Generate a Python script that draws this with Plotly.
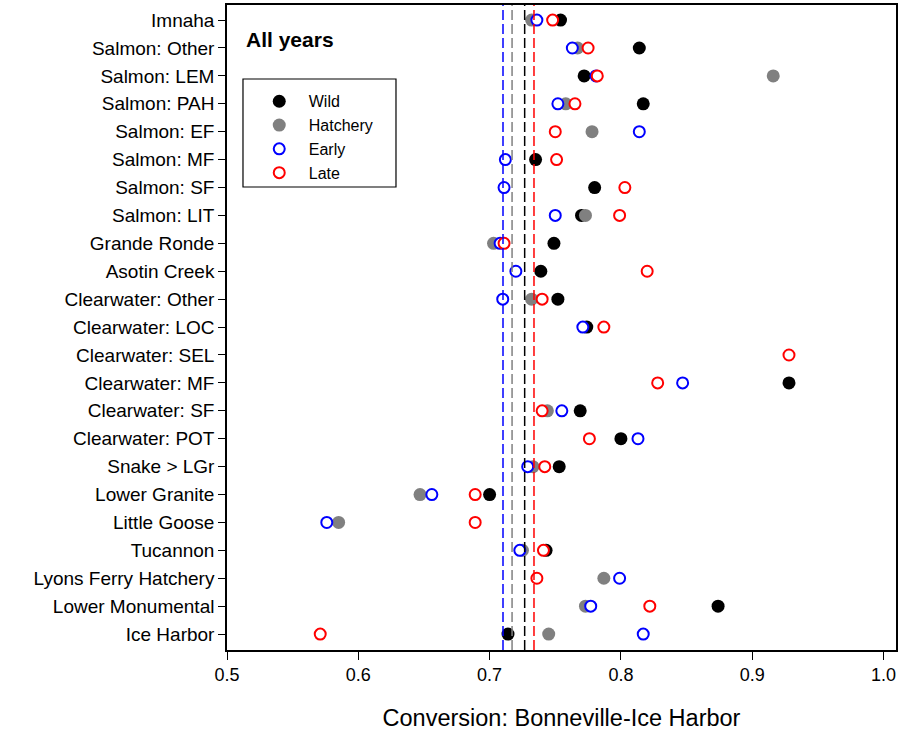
import plotly.graph_objects as go

sites = ["Imnaha", "Salmon: Other", "Salmon: LEM", "Salmon: PAH", "Salmon: EF",
         "Salmon: MF", "Salmon: SF", "Salmon: LIT", "Grande Ronde", "Asotin Creek",
         "Clearwater: Other", "Clearwater: LOC", "Clearwater: SEL", "Clearwater: MF",
         "Clearwater: SF", "Clearwater: POT", "Snake > LGr", "Lower Granite",
         "Little Goose", "Tucannon", "Lyons Ferry Hatchery", "Lower Monumental",
         "Ice Harbor"]

wild = [0.754, 0.814, 0.772, 0.817, None, 0.735, 0.780, 0.770, 0.749, 0.739,
        0.752, 0.774, None, 0.928, 0.769, 0.800, 0.753, 0.700, None, 0.743,
        None, 0.874, 0.714]
hatchery = [0.732, 0.767, 0.916, 0.758, 0.778, None, None, 0.773, 0.703, None,
            0.732, None, None, None, 0.744, None, 0.733, 0.647, 0.585, 0.725,
            0.787, 0.773, 0.745]
early = [0.736, 0.763, 0.781, 0.752, 0.814, 0.712, 0.711, 0.750, 0.708, 0.720,
         0.710, 0.771, None, 0.847, 0.755, 0.813, 0.729, 0.656, 0.576, 0.723,
         0.799, 0.777, 0.817]
late = [0.748, 0.775, 0.782, 0.765, 0.750, 0.751, 0.803, 0.799, 0.711, 0.820,
        0.740, 0.787, 0.928, 0.828, 0.740, 0.776, 0.742, 0.689, 0.689, 0.741,
        0.736, 0.822, 0.571]

mean_names = ["Early", "Hatchery", "Wild", "Late"]
mean_values = [0.7102, 0.7171, 0.7267, 0.7338]
mean_colors = ["#0000FF", "#808080", "#000000", "#FF0000"]

n = len(sites)
ypos = [n - 1 - i for i in range(n)]

fig = go.Figure()

series = [
    ("Wild", wild, dict(color="#000000", size=13, symbol="circle")),
    ("Hatchery", hatchery, dict(color="#808080", size=13, symbol="circle")),
    ("Early", early, dict(color="white", size=11, symbol="circle",
                          line=dict(color="#0000FF", width=2))),
    ("Late", late, dict(color="white", size=11, symbol="circle",
                        line=dict(color="#FF0000", width=2))),
]
for name, vals, mk in series:
    fig.add_trace(go.Scatter(x=vals, y=ypos, mode="markers", name=name,
                             marker=mk, showlegend=True))

for v, c in zip(mean_values, mean_colors):
    fig.add_shape(type="line", xref="x", yref="paper", x0=v, x1=v, y0=0, y1=1,
                  line=dict(color=c, width=1.5, dash="10px,4px"))

# legend box
fig.add_shape(type="rect", xref="paper", yref="paper",
              x0=0.0239, x1=0.2526, y0=0.7178, y1=0.8853,
              line=dict(color="black", width=1.2), fillcolor="rgba(0,0,0,0)")

fig.add_annotation(text="<b>All years</b>", xref="paper", yref="paper",
                   x=0.026, y=0.946, xanchor="left", yanchor="middle",
                   showarrow=False, font=dict(size=21, color="black",
                                              family="Liberation Sans, Arial"))

fig.update_layout(
    width=901, height=731,
    margin=dict(l=227, r=5, t=5, b=81, autoexpand=False),
    paper_bgcolor="white", plot_bgcolor="white",
    font=dict(family="Liberation Sans, Arial", color="black"),
    showlegend=True,
    legend=dict(x=0.034, y=0.877, xanchor="left", yanchor="top",
                bgcolor="rgba(0,0,0,0)", borderwidth=0,
                font=dict(size=16, color="black"),
                itemwidth=49, tracegroupgap=0),
    xaxis=dict(range=[0.5, 1.0095], tickvals=[0.5, 0.6, 0.7, 0.8, 0.9, 1.0],
               ticktext=["0.5", "0.6", "0.7", "0.8", "0.9", "1.0"],
               ticks="outside", ticklen=8, tickwidth=1.2, tickcolor="black",
               showline=True, linecolor="black", linewidth=1.5, mirror=True,
               showgrid=False, zeroline=False, automargin=False,
               tickfont=dict(size=18),
               title=dict(text="Conversion: Bonneville-Ice Harbor",
                          font=dict(size=23.5), standoff=26)),
    yaxis=dict(range=[-0.57, n - 1 + 0.54], tickvals=ypos, ticktext=sites,
               ticks="outside", ticklen=7, tickwidth=1.2, tickcolor="black",
               showline=True, linecolor="black", linewidth=1.5, mirror=True,
               showgrid=False, zeroline=False, automargin=False,
               tickfont=dict(size=19)),
)

fig.write_html("out.html", config={"displayModeBar": False},
               post_script="document.body.style.margin='0px';")
